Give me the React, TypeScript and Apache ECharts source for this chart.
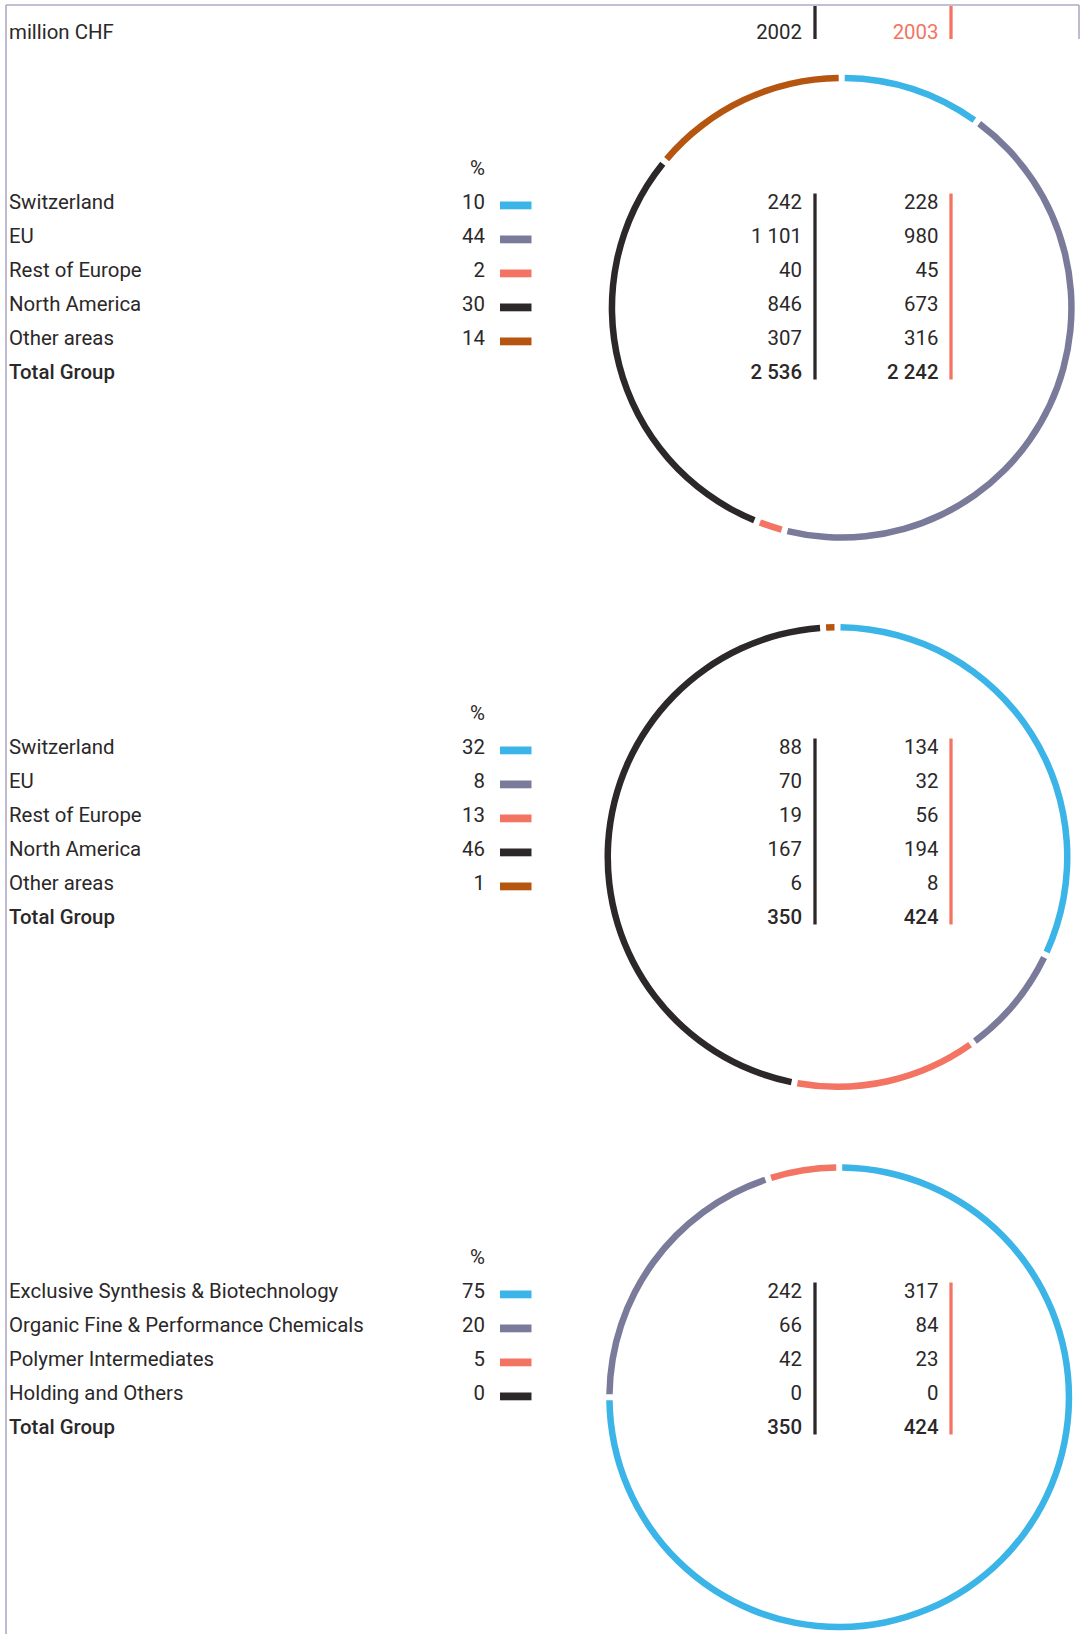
import React, { useEffect, useRef } from "react";
import * as echarts from "echarts";

// ---- data ----
const years = ["2002", "2003"];
const unitLabel = "million CHF";

const regionCategories = ["Switzerland", "EU", "Rest of Europe", "North America", "Other areas"];
const regionColors = ["#3bb4e7", "#7a7a9a", "#f37462", "#2c2829", "#b5550f"];

const salesPct = [10, 44, 2, 30, 14];
const sales2002 = [242, 1101, 40, 846, 307];
const sales2003 = [228, 980, 45, 673, 316];
const salesTotals = [2536, 2242];

const ebitPct = [32, 8, 13, 46, 1];
const ebit2002 = [88, 70, 19, 167, 6];
const ebit2003 = [134, 32, 56, 194, 8];
const ebitTotals = [350, 424];

const segmentCategories = [
  "Exclusive Synthesis & Biotechnology",
  "Organic Fine & Performance Chemicals",
  "Polymer Intermediates",
  "Holding and Others",
];
const segmentColors = ["#3bb4e7", "#7a7a9a", "#f37462", "#2c2829"];
const segmentPct = [75, 20, 5, 0];
const segment2002 = [242, 66, 42, 0];
const segment2003 = [317, 84, 23, 0];
const segmentTotals = [350, 424];

const totalLabel = "Total Group";

// ---- layout ----
const TEXT = "#2b2829";
const SALMON = "#f37462";
const DARK = "#2c2829";
const FRAME = "#aeabc6";
const FONT = "Roboto, 'Noto Sans', sans-serif";
const FS = 20.4;
const ROW = 34;
const BASE_SHIFT = 7; // distance from text centre line to baseline

const blocks = [
  { dy: 0, center: [841.7, 307.8], cats: regionCategories, colors: regionColors, pct: salesPct, a: sales2002, b: sales2003, totals: salesTotals },
  { dy: 545, center: [837.5, 857], cats: regionCategories, colors: regionColors, pct: ebitPct, a: ebit2002, b: ebit2003, totals: ebitTotals },
  { dy: 1089, center: [839.2, 1397.3], cats: segmentCategories, colors: segmentColors, pct: segmentPct, a: segment2002, b: segment2003, totals: segmentTotals },
];

const fmt = (n: number) => String(n).replace(/\B(?=(\d{3})+(?!\d))/g, " ");

function txt(text: string, x: number, baseline: number, align: string, opts: any = {}) {
  return {
    type: "text",
    x,
    y: baseline - BASE_SHIFT,
    silent: true,
    style: {
      text,
      fill: opts.fill || TEXT,
      fontSize: FS,
      fontFamily: FONT,
      fontWeight: opts.bold ? 500 : "normal",
      align,
      textAlign: align,
      verticalAlign: "middle",
      textVerticalAlign: "middle",
    },
  };
}

function vbar(x: number, y1: number, y2: number, color: string) {
  return {
    type: "line",
    silent: true,
    shape: { x1: x, y1, x2: x, y2 },
    style: { stroke: color, lineWidth: 3.3 },
  };
}

function buildGraphics() {
  const els: any[] = [];
  // frame
  els.push({ type: "line", silent: true, shape: { x1: 6, y1: 5, x2: 1079, y2: 5 }, style: { stroke: FRAME, lineWidth: 1.6 } });
  els.push({ type: "line", silent: true, shape: { x1: 6, y1: 5, x2: 6, y2: 1634 }, style: { stroke: FRAME, lineWidth: 1.6 } });
  els.push({ type: "line", silent: true, shape: { x1: 1079, y1: 5, x2: 1079, y2: 39 }, style: { stroke: FRAME, lineWidth: 1.6 } });

  // header
  els.push(txt(unitLabel, 9, 39, "left"));
  els.push(txt(years[0], 802, 39, "right"));
  els.push(txt(years[1], 938.5, 39, "right", { fill: SALMON }));
  els.push(vbar(815, 6, 39, DARK));
  els.push(vbar(951, 6, 39, SALMON));

  blocks.forEach((blk) => {
    const first = 209 + blk.dy;
    els.push(txt("%", 485, first - ROW, "right"));
    blk.cats.forEach((cat, i) => {
      const bl = first + i * ROW;
      els.push(txt(cat, 9, bl, "left"));
      els.push(txt(String(blk.pct[i]), 485, bl, "right"));
      els.push({
        type: "rect",
        silent: true,
        shape: { x: 500, y: bl - 7.5, width: 31.5, height: 7.8 },
        style: { fill: blk.colors[i] },
      });
      els.push(txt(fmt(blk.a[i]), 802, bl, "right"));
      els.push(txt(fmt(blk.b[i]), 938.5, bl, "right"));
    });
    const tl = first + blk.cats.length * ROW;
    els.push(txt(totalLabel, 9, tl, "left", { bold: true }));
    els.push(txt(fmt(blk.totals[0]), 802, tl, "right", { bold: true }));
    els.push(txt(fmt(blk.totals[1]), 938.5, tl, "right", { bold: true }));
    els.push(vbar(815, first - 15.5, tl + 0.5, DARK));
    els.push(vbar(951, first - 15.5, tl + 0.5, SALMON));
  });
  return els;
}

export default function App() {
  const ref = useRef<HTMLDivElement>(null);
  useEffect(() => {
    if (!ref.current) return;
    const chart = echarts.init(ref.current, null, { renderer: "svg" });
    chart.setOption({
      animation: false,
      backgroundColor: "#ffffff",
      series: blocks.map((blk) => ({
        type: "pie",
        center: blk.center,
        radius: [226.5, 233],
        startAngle: 90,
        clockwise: true,
        padAngle: 1.5,
        silent: true,
        label: { show: false },
        labelLine: { show: false },
        emphasis: { disabled: true },
        itemStyle: { borderWidth: 0 },
        data: blk.cats
          .map((c, i) => ({ name: c, value: blk.pct[i], itemStyle: { color: blk.colors[i] } }))
          .filter((d) => d.value > 0),
      })),
      graphic: { elements: buildGraphics() },
    });
    return () => chart.dispose();
  }, []);
  return (
    <div
      ref={ref}
      style={{ position: "absolute", left: 0, top: 0, width: 1088, height: 1634 }}
    />
  );
}
